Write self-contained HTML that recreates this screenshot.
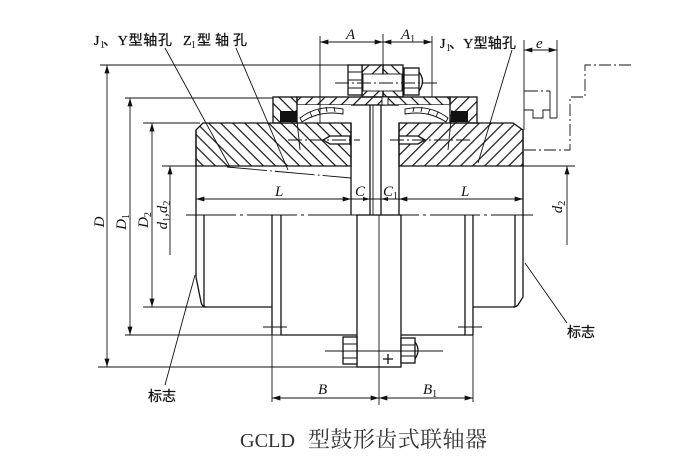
<!DOCTYPE html>
<html><head><meta charset="utf-8"><style>
html,body{margin:0;padding:0;background:#fff;}
svg{display:block;}
.o{stroke:#111;stroke-width:1.3;}
.t{stroke:#111;stroke-width:0.9;}
.cl{stroke:#111;stroke-width:0.9;fill:none;stroke-dasharray:14 3 2 3;}
.dim{font-family:"Liberation Serif",serif;font-style:italic;font-size:15px;fill:#111;}
.sub{font-family:"Liberation Serif",serif;font-size:10px;fill:#111;}
.cn{font-family:"Liberation Serif","Noto Sans CJK SC",sans-serif;font-size:14px;fill:#111;stroke:#111;stroke-width:0.25;}
</style></head><body>
<svg width="696" height="470" viewBox="0 0 696 470" xmlns="http://www.w3.org/2000/svg">
<defs>
<pattern id="hb" width="8.5" height="8.5" patternUnits="userSpaceOnUse" patternTransform="rotate(-45)"><line x1="1" y1="0" x2="1" y2="8.5" stroke="#111" stroke-width="1.2"/></pattern>
<pattern id="hf" width="8.5" height="8.5" patternUnits="userSpaceOnUse" patternTransform="rotate(45)"><line x1="1" y1="0" x2="1" y2="8.5" stroke="#111" stroke-width="1.2"/></pattern>
<marker id="ar" viewBox="0 0 10 6" refX="10" refY="3" markerWidth="9" markerHeight="5" orient="auto-start-reverse" markerUnits="userSpaceOnUse"><path d="M0,0 L10,3 L0,6 z" fill="#111"/></marker>
</defs>
<rect width="696" height="470" fill="#fff"/>

<!-- left dimension extension lines -->
<line class="t" x1="100" y1="65" x2="348" y2="65"/>
<line class="t" x1="125" y1="98" x2="273" y2="98"/>
<line class="t" x1="143" y1="123" x2="200" y2="123"/>
<line class="t" x1="162" y1="166" x2="196" y2="166"/>
<line class="t" x1="143" y1="307" x2="272" y2="307"/>
<line class="t" x1="125" y1="335" x2="357" y2="335"/>
<line class="t" x1="98" y1="367" x2="401" y2="367"/>

<!-- vertical dims -->
<line class="t" x1="107" y1="65" x2="107" y2="367" marker-start="url(#ar)" marker-end="url(#ar)"/>
<line class="t" x1="130" y1="98" x2="130" y2="335" marker-start="url(#ar)" marker-end="url(#ar)"/>
<line class="t" x1="152" y1="123" x2="152" y2="307" marker-start="url(#ar)" marker-end="url(#ar)"/>
<line class="t" x1="170" y1="166" x2="170" y2="255" marker-start="url(#ar)"/>
<text class="dim" transform="translate(104,222) rotate(-90)" text-anchor="middle">D</text>
<text class="dim" transform="translate(126,222) rotate(-90)" text-anchor="middle">D<tspan class="sub" dy="3" font-style="normal">1</tspan></text>
<text class="dim" transform="translate(148,220) rotate(-90)" text-anchor="middle">D<tspan class="sub" dy="3" font-style="normal">2</tspan></text>
<text class="dim" transform="translate(167,215) rotate(-90)" text-anchor="middle">d<tspan class="sub" dy="3" font-style="normal">1</tspan><tspan dy="-3">,d</tspan><tspan class="sub" dy="3" font-style="normal">2</tspan></text>

<!-- upper hubs (section) -->
<path d="M196,130 L203,123 L351,123 L351,166 L196,166 Z" fill="url(#hb)" class="o"/>
<path d="M399,123 L513,123 L523,130 L523,166 L399,166 Z" fill="url(#hf)" class="o"/>
<line class="o" x1="196" y1="130" x2="196" y2="215"/>
<line class="o" x1="351" y1="123" x2="351" y2="215"/>
<line class="o" x1="399" y1="123" x2="399" y2="215"/>
<line class="o" x1="523" y1="130" x2="523" y2="215"/>

<!-- sleeve -->
<rect x="297" y="97" width="86" height="8" fill="url(#hf)" class="o"/>
<rect x="383" y="97" width="67" height="8" fill="url(#hb)" class="o"/>
<rect x="362" y="65" width="21" height="32" fill="url(#hf)" class="o"/>
<rect x="383" y="65" width="20" height="32" fill="url(#hb)" class="o"/>
<rect x="363" y="74" width="39" height="17" fill="#fff" stroke="#111" stroke-width="0.9"/>
<rect x="382" y="97" width="6" height="8" fill="#fff" class="t"/>
<!-- gear zone white under sleeve -->
<rect x="297" y="105" width="54" height="17" fill="#fff"/>
<rect x="399" y="105" width="51" height="17" fill="#fff"/>
<!-- seal boxes -->
<rect x="273" y="97" width="24" height="26" fill="url(#hb)" class="o"/>
<rect x="280" y="111" width="17" height="11" fill="#111"/>
<rect x="450" y="97" width="27" height="26" fill="url(#hf)" class="o"/>
<rect x="451" y="111" width="17" height="11" fill="#111"/>
<line class="t" x1="296" y1="110" x2="300" y2="150"/>
<line class="t" x1="452" y1="110" x2="448" y2="150"/>
<!-- drum teeth arcs -->
<path d="M300,118 Q318,104 343,109 L343,114 Q320,110 302,122 Z" fill="#fff" class="t"/>
<path d="M448,118 Q430,104 405,109 L405,114 Q428,110 446,122 Z" fill="#fff" class="t"/>
<path d="M310,112 L312,117 M318,109 L320,114 M326,107 L327,112 M334,107 L335,112 M438,112 L436,117 M430,109 L428,114 M422,107 L421,112 M414,107 L413,112" class="t" fill="none"/>
<!-- screws -->
<path d="M330,136 H350 V144 H330 L323,140 Z" fill="#fff" class="o"/>
<path d="M418,136 H399 V144 H418 L425,140 Z" fill="#fff" class="o"/>
<line class="cl" x1="288" y1="140" x2="360" y2="140"/>
<line class="cl" x1="390" y1="140" x2="470" y2="140"/>
<!-- taper bore line -->
<line class="t" x1="227" y1="167" x2="351" y2="178" stroke-dasharray="40 3 2 3"/>

<!-- bolt top -->
<rect x="348" y="65" width="14" height="30" fill="#fff" class="o"/>
<path d="M348,72 H362 M348,80 H362 M348,88 H362" class="t" fill="none"/>
<rect x="404" y="68" width="15" height="27" fill="#fff" class="o"/>
<path d="M404,75 H419 M404,88 H419" class="t" fill="none"/>
<path d="M419,72 Q426,81 419,91" class="o" fill="none"/>
<line class="cl" x1="335" y1="83" x2="440" y2="83"/>

<!-- center plate -->
<line class="o" x1="370" y1="105" x2="370" y2="215"/>
<line class="t" x1="373" y1="105" x2="373" y2="215"/>
<line class="o" x1="381" y1="105" x2="381" y2="215"/>

<!-- A / A1 -->
<line class="t" x1="320" y1="36" x2="320" y2="123"/>
<line class="t" x1="383" y1="34" x2="383" y2="65"/>
<line class="t" x1="432" y1="36" x2="432" y2="97"/>
<line class="t" x1="320" y1="42" x2="383" y2="42" marker-start="url(#ar)" marker-end="url(#ar)"/>
<line class="t" x1="383" y1="42" x2="432" y2="42" marker-start="url(#ar)" marker-end="url(#ar)"/>
<text class="dim" x="346" y="39">A</text>
<text class="dim" x="401" y="39">A<tspan class="sub" dy="3" font-style="normal">1</tspan></text>

<!-- e and phantom -->
<line class="t" x1="524" y1="40" x2="524" y2="130"/>
<line class="t" x1="557" y1="40" x2="557" y2="118"/>
<line class="t" x1="524" y1="50" x2="557" y2="50" marker-start="url(#ar)" marker-end="url(#ar)"/>
<text class="dim" x="536" y="48">e</text>
<line class="cl" x1="524" y1="91" x2="550" y2="91"/>
<path d="M524,110 H533 V118 H543 V110 H550 M550,91 V118 H557" class="t" fill="none"/>
<path d="M524,150 H570 V97 H585 V65 H634" class="t" fill="none" stroke-dasharray="12 3 2 3"/>
<line class="t" x1="523" y1="166" x2="575" y2="166"/>
<line class="t" x1="567" y1="166" x2="567" y2="245" marker-start="url(#ar)"/>
<text class="dim" transform="translate(562,207) rotate(-90)" text-anchor="middle">d<tspan class="sub" dy="3" font-style="normal">2</tspan></text>

<!-- leaders + labels -->
<line class="t" x1="165" y1="48" x2="230" y2="167"/>
<line class="t" x1="236" y1="48" x2="288" y2="170"/>
<line class="t" x1="512" y1="50" x2="478" y2="163"/>
<text class="cn" x="94" y="45">J</text><text class="sub" x="100" y="48">1</text>
<text class="cn" x="103" y="45" textLength="69" lengthAdjust="spacing">、Y型轴孔</text>
<text class="cn" x="183" y="45">Z</text><text class="sub" x="191" y="48">1</text>
<text class="cn" x="197" y="45" textLength="50" lengthAdjust="spacing">型轴孔</text>
<text class="cn" x="440" y="48">J</text><text class="sub" x="446" y="51">1</text>
<text class="cn" x="449" y="48" textLength="67" lengthAdjust="spacing">、Y型轴孔</text>

<!-- centerline -->
<line class="t" x1="186" y1="215" x2="533" y2="215" stroke-dasharray="50 4 3 4"/>

<!-- L, C dims -->
<line class="t" x1="196" y1="199" x2="351" y2="199" marker-start="url(#ar)" marker-end="url(#ar)"/>
<line class="t" x1="399" y1="199" x2="523" y2="199" marker-start="url(#ar)" marker-end="url(#ar)"/>
<line class="t" x1="351" y1="199" x2="399" y2="199"/>
<path d="M370,199 l-7,-2 v4 z M381,199 l7,-2 v4 z" fill="#111"/>
<text class="dim" x="275" y="196">L</text>
<text class="dim" x="355" y="196">C</text>
<text class="dim" x="383" y="196">C<tspan class="sub" dy="3" font-style="normal">1</tspan></text>
<text class="dim" x="461" y="196">L</text>

<!-- lower half -->
<path d="M196,215 V277 L201,302 Q202,307 206,307" class="o" fill="none"/>
<line class="o" x1="204" y1="215" x2="204" y2="307"/>
<line class="o" x1="204" y1="307" x2="272" y2="307"/>
<line class="o" x1="272" y1="215" x2="272" y2="335"/>
<line class="t" x1="272" y1="335" x2="272" y2="402"/>
<line class="o" x1="281" y1="215" x2="281" y2="335"/>
<line class="o" x1="281" y1="335" x2="357" y2="335"/>
<line class="t" x1="263" y1="327" x2="287" y2="327"/>
<rect x="357" y="215" width="44" height="152" fill="none" class="o"/>
<line class="t" x1="379" y1="215" x2="379" y2="405"/>
<rect x="343" y="337" width="14" height="27" fill="#fff" class="o"/>
<path d="M343,344 H357 M343,351 H357 M343,358 H357" class="t" fill="none"/>
<rect x="401" y="338" width="14" height="25" fill="#fff" class="o"/>
<path d="M401,345 H415 M401,356 H415" class="t" fill="none"/>
<path d="M415,342 Q421,350 415,359" class="o" fill="none"/>
<line class="t" x1="325" y1="351" x2="443" y2="351"/>
<path d="M383,359 H393 M388,354 V364" stroke="#111" stroke-width="1.3" fill="none"/>
<line class="o" x1="401" y1="335" x2="473" y2="335"/>
<line class="o" x1="465" y1="215" x2="465" y2="335"/>
<line class="o" x1="473" y1="215" x2="473" y2="335"/>
<line class="t" x1="473" y1="335" x2="473" y2="402"/>
<line class="t" x1="458" y1="327" x2="482" y2="327"/>
<line class="o" x1="473" y1="307" x2="515" y2="307"/>
<line class="o" x1="515" y1="215" x2="515" y2="307"/>
<path d="M523,215 V297 L518,305 Q516,307 513,307" class="o" fill="none"/>

<!-- 标志 leaders -->
<line class="t" x1="195" y1="275" x2="165" y2="385"/>
<line class="t" x1="525" y1="263" x2="567" y2="323"/>
<text class="cn" x="148" y="401">标志</text>
<text class="cn" x="567" y="337">标志</text>

<!-- B dims -->
<line class="t" x1="272" y1="398" x2="379" y2="398" marker-start="url(#ar)" marker-end="url(#ar)"/>
<line class="t" x1="379" y1="398" x2="473" y2="398" marker-start="url(#ar)" marker-end="url(#ar)"/>
<text class="dim" x="318" y="394">B</text>
<text class="dim" x="423" y="394">B<tspan class="sub" dy="3" font-style="normal">1</tspan></text>

<!-- title -->
<text x="240" y="447" font-family="Liberation Serif, serif" font-size="20" fill="#333" textLength="55" lengthAdjust="spacingAndGlyphs">GCLD</text>
<text x="308" y="447" font-family="Liberation Serif, 'Noto Serif CJK SC', serif" font-size="22" fill="#333" textLength="179" lengthAdjust="spacing">型鼓形齿式联轴器</text>
</svg>
</body></html>
